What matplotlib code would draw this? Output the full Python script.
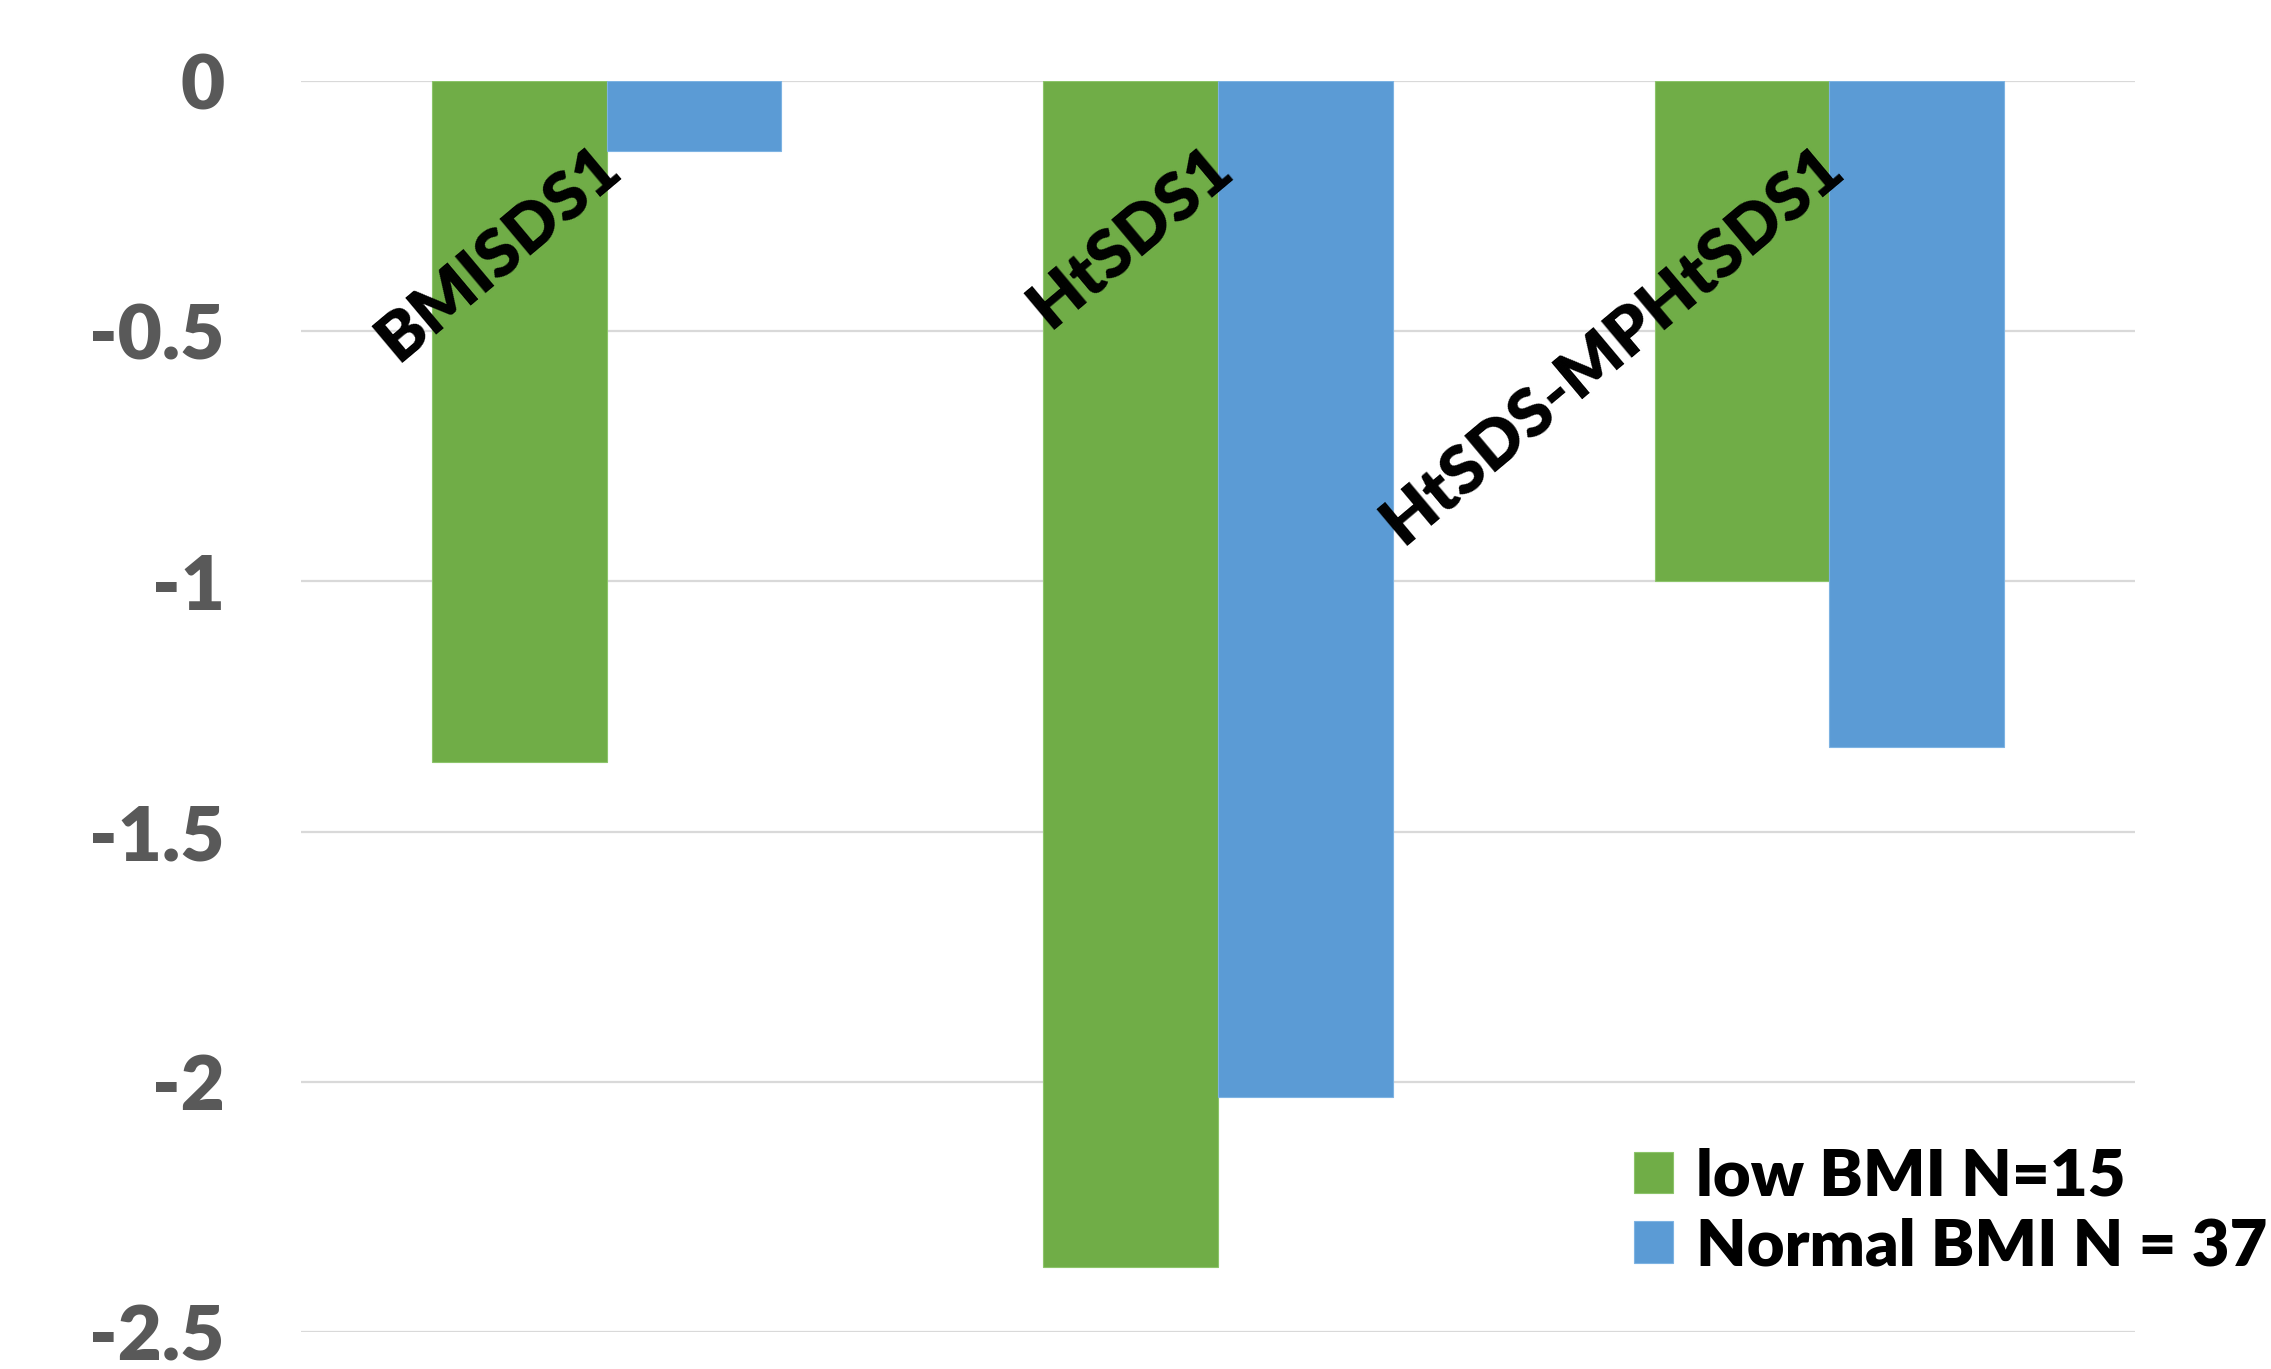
import matplotlib
matplotlib.use("Agg")
import matplotlib.pyplot as plt
import numpy as np

categories = ["BMISDS1", "HtSDS1", "HtSDS-MPHtSDS1"]
low_bmi = [-1.36, -2.37, -1.00]
normal_bmi = [-0.14, -2.03, -1.33]
series_names = ["low BMI N=15", "Normal BMI N = 37"]
yticks = [0, -0.5, -1, -1.5, -2, -2.5]
ytick_labels = ["0", "-0.5", "-1", "-1.5", "-2", "-2.5"]

W, H = 2271, 1369
DPI = 100
fig = plt.figure(figsize=(W / DPI, H / DPI), dpi=DPI)
ax = fig.add_axes([301 / W, 1 - 1332 / H, (2135 - 301) / W, (1332 - 81) / H])

FONT = "Lato"
WEIGHT = "heavy"
green = "#70AD47"
blue = "#5B9BD5"

x = np.arange(len(categories))
w = 1 / 3.5
ax.bar(x - w / 2, low_bmi, width=w, color=green, edgecolor="#8cc46a", linewidth=0.8, label=series_names[0], zorder=3)
ax.bar(x + w / 2, normal_bmi, width=w, color=blue, edgecolor="#7db3e3", linewidth=0.8, label=series_names[1], zorder=3)

ax.set_xlim(-0.5, 2.5)
ax.set_ylim(-2.5, 0)
ax.set_yticks(yticks)
ax.set_yticklabels(ytick_labels, fontfamily=FONT, fontweight=WEIGHT, fontsize=55, color="#595959")
ax.tick_params(axis="y", length=0, pad=55)
ax.set_xticks([])
ax.yaxis.grid(True, color="#d9d9d9", linewidth=1.6, zorder=0)
ax.set_axisbelow(True)
for s in ax.spines.values():
    s.set_visible(False)

# fit category label size to the reference text lengths (pixels along the baseline)
target_len = [300, 242, 575]
renderer = fig.canvas.get_renderer()
probe_size = 50
tot = 0.0
for c in categories:
    t = fig.text(0, 0, c, fontfamily=FONT, fontweight=WEIGHT, fontsize=probe_size)
    tot += t.get_window_extent(renderer).width
    t.remove()
cat_size = probe_size * sum(target_len) / tot

for i, c in enumerate(categories):
    ax.annotate(c, xy=(i, 0), xytext=(18, -93), textcoords="offset pixels",
                rotation=40, ha="right", va="baseline", rotation_mode="anchor",
                fontfamily=FONT, fontweight=WEIGHT, fontsize=cat_size, color="black", zorder=5,
                annotation_clip=False)

leg = ax.legend(loc="center left", bbox_to_anchor=(1634 / W, 1 - 1212 / H),
                bbox_transform=fig.transFigure, frameon=False, borderpad=0, borderaxespad=0,
                handlelength=0.6, handleheight=0.6, handletextpad=0.35, labelspacing=0.16,
                prop={"family": FONT, "weight": WEIGHT, "size": 47})
for t in leg.get_texts():
    t.set_color("black")

fig.savefig("out.png", dpi=DPI)
